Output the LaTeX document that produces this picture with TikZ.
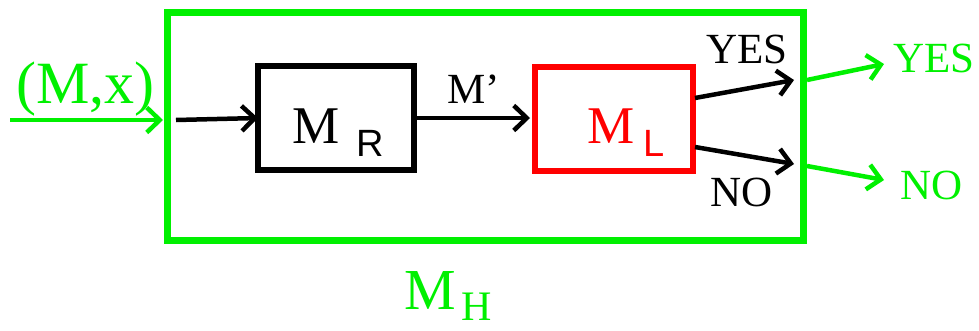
\documentclass[tikz,border=0pt]{standalone}
\usepackage{fontspec}
\setmainfont{Liberation Serif}
\newfontfamily\arialf{Liberation Sans}
\usetikzlibrary{arrows.meta}
\definecolor{gr}{RGB}{0,240,0}
\definecolor{rd}{RGB}{255,0,0}
\tikzset{
  box/.style={draw, minimum width=#1, inner sep=0pt, outer sep=0pt},
  arr/.style={line width=4.5pt, -{Straight Barb[length=13pt,width=25pt]}},
  lbl/.style={inner sep=0pt, anchor=base west},
}
\begin{document}
\begin{tikzpicture}[x=1pt,y=-1pt]
\useasboundingbox (0,0) rectangle (979,330);
% outer green box
\node[box=636pt, minimum height=228pt, draw=gr, line width=7pt] (H) at (485,126) {};
% inner boxes
\node[box=156pt, minimum height=104pt, draw=black, line width=6pt] (R) at (336,118) {};
\node[box=158pt, minimum height=104pt, draw=rd, line width=6pt] (L) at (614,119) {};
% texts in boxes
\node[lbl, font=\fontsize{53}{53}\selectfont] (mr) at (292,143) {M};
\node[lbl, font=\arialf\fontsize{38}{38}\selectfont] (mrs) at (356,156) {R};
\node[lbl, font=\fontsize{53}{53}\selectfont, text=rd] (ml) at (587,143) {M};
\node[lbl, font=\arialf\fontsize{38}{38}\selectfont, text=rd] (mls) at (643,156) {L};
% labels
\node[lbl, font=\fontsize{60}{60}\selectfont, text=gr] (mx) at (16,103) {(M,x)};
\node[lbl, font=\fontsize{43}{43}\selectfont] (mp) at (447,103) {M’};
\node[lbl, font=\fontsize{43}{43}\selectfont] (yes) at (706,63) {YES};
\node[lbl, font=\fontsize{43}{43}\selectfont] (no) at (710,206) {NO};
\node[lbl, font=\fontsize{43}{43}\selectfont, text=gr] (gyes) at (893,72) {YES};
\node[lbl, font=\fontsize{43}{43}\selectfont, text=gr] (gno) at (900,199) {NO};
\node[lbl, font=\fontsize{58}{58}\selectfont, text=gr] (mh) at (404,309) {M};
\node[lbl, font=\fontsize{42}{42}\selectfont, text=gr, text depth=0pt] (mhs) at (461,320) {H};
% coordinates
\coordinate (in) at (10,120);
\coordinate (hin) at (163,120);
\coordinate (hin2) at (176,120);
\coordinate (ly) at (695,98);
\coordinate (ln) at (695,147);
\coordinate (ey) at (794,80);
\coordinate (en) at (794,164);
\coordinate (gy0) at (807,80);
\coordinate (gn0) at (807,166);
\coordinate (gy) at (884,64);
\coordinate (gn) at (884,180);
% connectors
\draw[arr, gr] (in) -- (hin);
\draw[arr] (hin2) -- (R.west);
\draw[arr] (R.east) -- ([xshift=-5pt]L.west |- R.east);
\draw[arr] (ly) -- (ey);
\draw[arr] (ln) -- (en);
\draw[arr, gr] (gy0) -- (gy);
\draw[arr, gr] (gn0) -- (gn);
\end{tikzpicture}
\end{document}
